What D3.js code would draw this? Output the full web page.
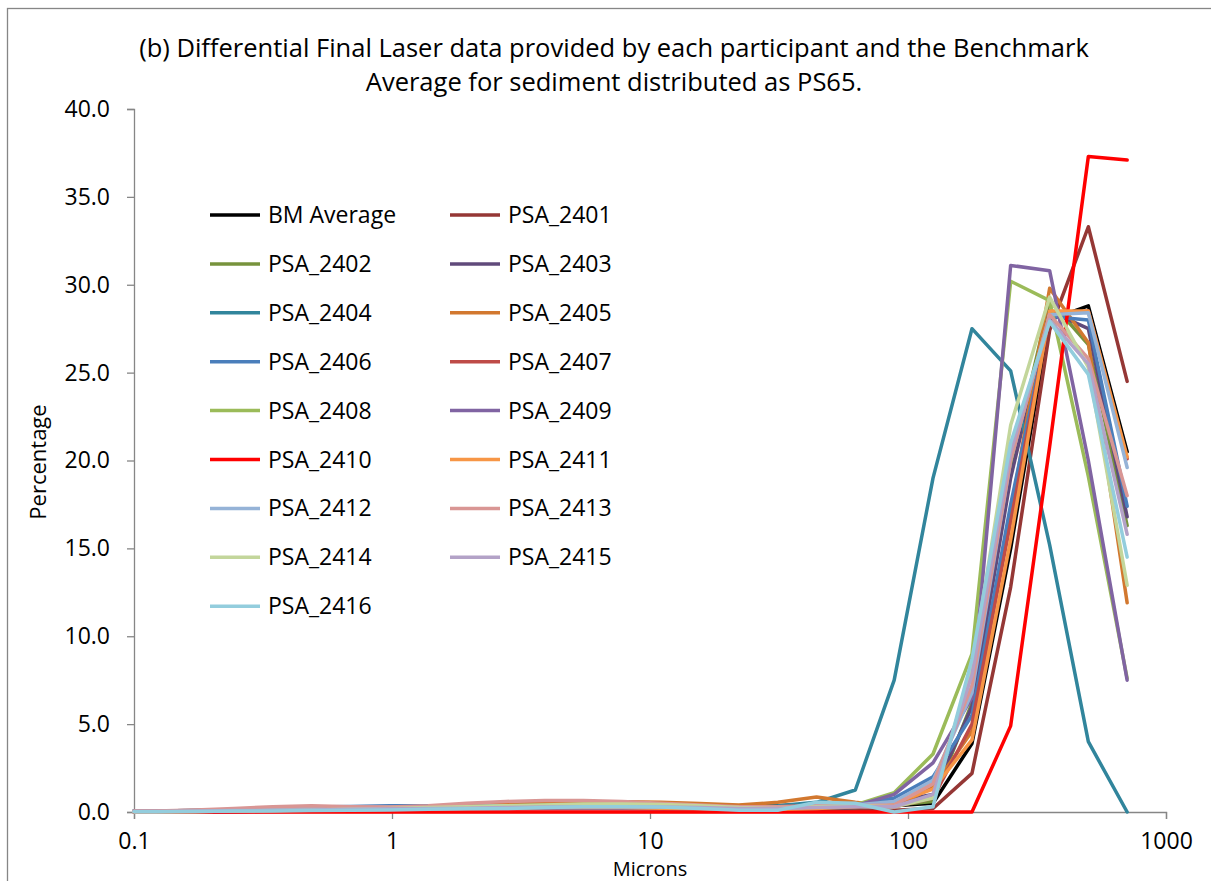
<!DOCTYPE html>
<html>
<head>
<meta charset="utf-8">
<script src="https://cdn.jsdelivr.net/npm/d3@7"></script>
<style>
  body { margin: 0; background: #fff; }
  text { font-family: "Open Sans", "Noto Sans", sans-serif; fill: #000; }
</style>
</head>
<body>
<svg id="chart" width="1211" height="881"></svg>
<script>
"use strict";

// size classes (microns)
var sizes = [0.1, 0.122, 0.173, 0.244, 0.345, 0.488, 0.691, 0.977, 1.38, 1.95, 2.76, 3.91, 5.52, 7.81,
    11.0, 15.6, 22.1, 31.3, 44.2, 62.5, 88.4, 125, 177, 250, 354, 500, 707];

var seriesNames = ["BM Average", "PSA_2401", "PSA_2402", "PSA_2403", "PSA_2404", "PSA_2405", "PSA_2406",
    "PSA_2407", "PSA_2408", "PSA_2409", "PSA_2410", "PSA_2411", "PSA_2412", "PSA_2413", "PSA_2414",
    "PSA_2415", "PSA_2416"];

var seriesColors = ["#000000", "#953735", "#77933c", "#604a7b", "#31859c", "#d2782f", "#4a7ebb",
    "#be4b48", "#9bbb59", "#8064a2", "#ff0000", "#f79646", "#95b3d7", "#d99694", "#c3d69b",
    "#b3a2c7", "#93cddd"];

var bmAverage = [0.05, 0.05, 0.08, 0.12, 0.18, 0.22, 0.22, 0.25, 0.3, 0.35, 0.42, 0.48, 0.5, 0.5, 0.45, 0.38, 0.3, 0.35, 0.45, 0.35, 0.35, 0.5, 3.9, 15.0, 28.0, 28.8, 20.5];
var psa2401 = [0.05, 0.05, 0.05, 0.08, 0.1, 0.12, 0.15, 0.2, 0.25, 0.3, 0.35, 0.4, 0.42, 0.4, 0.35, 0.3, 0.2, 0.15, 0.15, 0.1, 0.1, 0.2, 2.2, 12.8, 27.4, 33.3, 24.5];
var psa2402 = [0.02, 0.02, 0.03, 0.05, 0.08, 0.1, 0.12, 0.15, 0.2, 0.25, 0.3, 0.35, 0.38, 0.38, 0.35, 0.3, 0.2, 0.2, 0.25, 0.25, 0.4, 0.6, 6.2, 19.5, 29.1, 26.6, 16.3];
var psa2403 = [0, 0, 0, 0.02, 0.05, 0.08, 0.1, 0.12, 0.15, 0.18, 0.2, 0.2, 0.2, 0.2, 0.18, 0.15, 0.1, 0.15, 0.2, 0.25, 0.6, 1.0, 6.0, 19.0, 28.5, 27.5, 16.8];
var psa2404 = [0.05, 0.05, 0.05, 0.05, 0.08, 0.1, 0.15, 0.2, 0.25, 0.3, 0.35, 0.4, 0.45, 0.45, 0.4, 0.35, 0.3, 0.35, 0.55, 1.25, 7.5, 19.0, 27.5, 25.1, 15.2, 4.0, 0];
var psa2405 = [0.02, 0.02, 0.03, 0.05, 0.1, 0.15, 0.2, 0.25, 0.3, 0.38, 0.45, 0.5, 0.55, 0.58, 0.55, 0.48, 0.4, 0.55, 0.85, 0.55, 0.3, 1.4, 4.6, 17.0, 29.8, 26.7, 11.9];
var psa2406 = [0.05, 0.05, 0.08, 0.12, 0.2, 0.28, 0.32, 0.35, 0.35, 0.32, 0.3, 0.28, 0.25, 0.22, 0.2, 0.18, 0.15, 0.2, 0.3, 0.4, 0.8, 2.0, 5.5, 17.5, 28.2, 28.0, 17.4];
var psa2407 = [0.03, 0.03, 0.05, 0.08, 0.12, 0.15, 0.18, 0.22, 0.25, 0.3, 0.35, 0.4, 0.42, 0.42, 0.4, 0.35, 0.3, 0.3, 0.35, 0.3, 0.3, 0.8, 5.0, 16.5, 28.3, 28.5, 20.1];
var psa2408 = [0, 0, 0.02, 0.05, 0.08, 0.12, 0.15, 0.2, 0.25, 0.3, 0.35, 0.4, 0.42, 0.42, 0.38, 0.3, 0.2, 0.2, 0.3, 0.4, 1.1, 3.3, 9.0, 30.2, 29.1, 19.1, 7.6];
var psa2409 = [0, 0, 0, 0.02, 0.03, 0.05, 0.08, 0.1, 0.12, 0.15, 0.18, 0.2, 0.2, 0.2, 0.18, 0.15, 0.1, 0.15, 0.25, 0.35, 1.0, 2.8, 6.5, 31.1, 30.8, 20.0, 7.5];
var psa2410 = [0, 0, 0, 0, 0, 0, 0, 0, 0, 0, 0, 0, 0, 0, 0, 0, 0, 0, 0, 0, 0, 0, 0, 4.9, 20.8, 37.3, 37.1];
var psa2411 = [0.02, 0.02, 0.03, 0.05, 0.08, 0.1, 0.12, 0.15, 0.18, 0.2, 0.22, 0.25, 0.25, 0.25, 0.22, 0.2, 0.15, 0.15, 0.2, 0.3, 0.5, 1.3, 4.1, 15.5, 28.5, 28.5, 20.2];
var psa2412 = [0.05, 0.05, 0.08, 0.1, 0.15, 0.2, 0.25, 0.28, 0.3, 0.32, 0.35, 0.35, 0.35, 0.35, 0.3, 0.25, 0.2, 0.2, 0.3, 0.4, 0.6, 1.8, 6.8, 20.0, 28.3, 28.4, 19.6];
var psa2413 = [0.05, 0.06, 0.12, 0.2, 0.3, 0.35, 0.3, 0.28, 0.35, 0.5, 0.6, 0.65, 0.65, 0.6, 0.5, 0.4, 0.3, 0.3, 0.35, 0.35, 0.4, 1.6, 7.2, 20.0, 28.3, 25.8, 18.0];
var psa2414 = [0.02, 0.02, 0.03, 0.05, 0.08, 0.12, 0.15, 0.2, 0.25, 0.3, 0.35, 0.4, 0.45, 0.45, 0.42, 0.35, 0.25, 0.2, 0.3, 0.35, 0.3, 0.8, 8.2, 22.0, 29.3, 25.3, 12.9];
var psa2415 = [0.03, 0.03, 0.05, 0.08, 0.1, 0.12, 0.15, 0.18, 0.2, 0.22, 0.25, 0.28, 0.3, 0.3, 0.28, 0.25, 0.2, 0.2, 0.25, 0.3, 0.3, 1.0, 7.8, 20.5, 28.0, 25.5, 15.8];
var psa2416 = [0.02, 0.02, 0.03, 0.05, 0.06, 0.08, 0.1, 0.12, 0.15, 0.18, 0.2, 0.25, 0.3, 0.3, 0.28, 0.2, 0.1, 0.1, 0.55, 0.5, 0.0, 0.3, 8.7, 21.0, 27.9, 24.9, 14.5];

var seriesValues = [bmAverage, psa2401, psa2402, psa2403, psa2404, psa2405, psa2406, psa2407, psa2408,
    psa2409, psa2410, psa2411, psa2412, psa2413, psa2414, psa2415, psa2416];

var yTicks = [0, 5, 10, 15, 20, 25, 30, 35, 40];
var xTicks = [0.1, 1, 10, 100, 1000];
var xTickLabels = ["0.1", "1", "10", "100", "1000"];

var titleLines = ["(b) Differential Final Laser data provided by each participant and the Benchmark",
    "Average for sediment distributed as PS65."];

var svg = d3.select("#chart");
var axisColor = "#868686";

// chart frame
svg.append("rect")
    .attr("x", 7.5).attr("y", 8.5)
    .attr("width", 1220).attr("height", 890)
    .attr("fill", "none")
    .attr("stroke", axisColor)
    .attr("stroke-width", 1.3);

var x = d3.scaleLog().domain([0.1, 1000]).range([134, 1166]);
var y = d3.scaleLinear().domain([0, 40]).range([812, 109]);

// title
svg.append("g").selectAll("text")
    .data(titleLines)
    .enter().append("text")
    .attr("x", 614)
    .attr("y", function (d, i) { return 57 + i * 34; })
    .attr("text-anchor", "middle")
    .style("font-size", "25.5px")
    .text(function (d) { return d; });

// y axis
var yAxis = svg.append("g")
    .attr("transform", "translate(134,0)")
    .call(d3.axisLeft(y).tickValues(yTicks).tickSize(7).tickPadding(17)
        .tickFormat(d3.format(".1f")));
yAxis.select(".domain").attr("stroke", axisColor).attr("stroke-width", 1.3);
yAxis.selectAll(".tick line").attr("stroke", axisColor).attr("stroke-width", 1.3);
yAxis.selectAll(".tick text").style("font-size", "23px").attr("fill", "#000")
    .style("font-family", "'Open Sans', sans-serif");

// x axis
var xAxis = svg.append("g")
    .attr("transform", "translate(0,812)")
    .call(d3.axisBottom(x).tickValues(xTicks).tickSize(7).tickPadding(14)
        .tickFormat(function (d, i) { return xTickLabels[i]; }));
xAxis.select(".domain").attr("stroke", axisColor).attr("stroke-width", 1.3);
xAxis.selectAll(".tick line").attr("stroke", axisColor).attr("stroke-width", 1.3);
xAxis.selectAll(".tick text").style("font-size", "23px").attr("fill", "#000")
    .style("font-family", "'Open Sans', sans-serif");

// axis titles
svg.append("text")
    .attr("x", 650).attr("y", 876)
    .attr("text-anchor", "middle")
    .style("font-size", "20px")
    .text("Microns");

svg.append("text")
    .attr("transform", "translate(46,462) rotate(-90)")
    .attr("text-anchor", "middle")
    .style("font-size", "22px")
    .text("Percentage");

// series lines
var line = d3.line()
    .x(function (d, i) { return x(sizes[i]); })
    .y(function (d) { return y(d); });

svg.append("g").selectAll("path")
    .data(seriesValues)
    .enter().append("path")
    .attr("d", line)
    .attr("fill", "none")
    .attr("stroke", function (d, i) { return seriesColors[i]; })
    .attr("stroke-width", 3.5)
    .attr("stroke-linejoin", "round")
    .attr("stroke-linecap", "round");

// legend, two columns filled row by row
var legend = svg.append("g").selectAll("g")
    .data(seriesNames)
    .enter().append("g")
    .attr("transform", function (d, i) {
        return "translate(" + (210 + (i % 2) * 240) + "," + (215 + Math.floor(i / 2) * 48.9) + ")";
    });

legend.append("line")
    .attr("x1", 0).attr("x2", 50)
    .attr("stroke", function (d, i) { return seriesColors[i]; })
    .attr("stroke-width", 3.5);

legend.append("text")
    .attr("x", 58).attr("y", 8)
    .style("font-size", "23px")
    .text(function (d) { return d; });
</script>
</body>
</html>
